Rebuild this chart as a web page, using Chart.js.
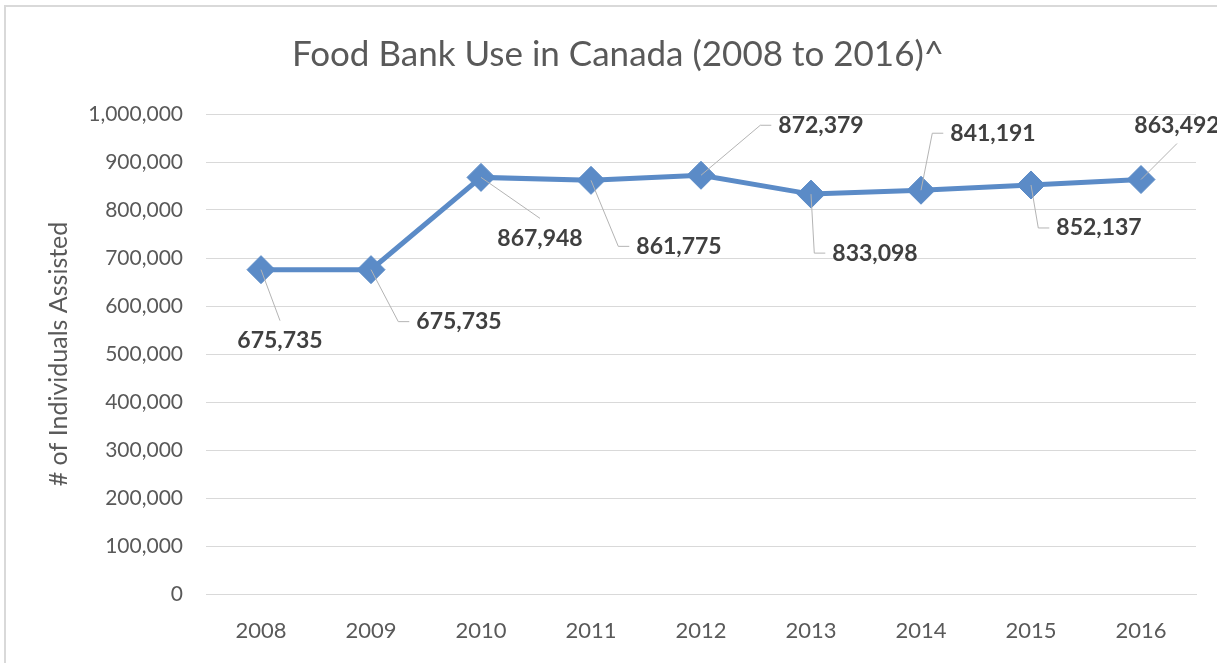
<!DOCTYPE html>
<html>
<head>
<meta charset="utf-8">
<script src="https://cdn.jsdelivr.net/npm/chart.js@4"></script>
<style>
  html, body { margin: 0; padding: 0; background: #fff; }
  #wrap { width: 1217px; height: 663px; }
</style>
</head>
<body>
<div id="wrap"><canvas id="foodChart" width="1217" height="663"></canvas></div>
<script>
// -----------------------------
// Data
// -----------------------------
const years = ["2008", "2009", "2010", "2011", "2012", "2013", "2014", "2015", "2016"];
const individuals = [675735, 675735, 867948, 861775, 872379, 833098, 841191, 852137, 863492];
const yTicks = [0, 100000, 200000, 300000, 400000, 500000, 600000, 700000, 800000, 900000, 1000000];

// where each data label sits relative to its point, and how the leader line runs
const labelPlacement = [
  { dx: 19, dy: 71, leader: "top" },
  { dx: 88, dy: 52, leader: "side" },
  { dx: 59, dy: 61, leader: "top" },
  { dx: 88, dy: 66, leader: "side" },
  { dx: 120, dy: -50, leader: "side" },
  { dx: 64, dy: 59, leader: "side" },
  { dx: 72, dy: -57, leader: "side" },
  { dx: 68, dy: 43, leader: "side" },
  { dx: 36, dy: -54, leader: "bottom" }
];

const FONT = "Lato, 'Open Sans', sans-serif";
const LINE_BLUE = "#5B8BC7";

function fmt(n) {
  return n.toLocaleString("en-US");
}

// -----------------------------
// Frame + leader-line labels
// -----------------------------
const framePlugin = {
  id: "frame",
  beforeDraw(chart) {
    const ctx = chart.ctx;
    ctx.save();
    ctx.fillStyle = "#fff";
    ctx.fillRect(0, 0, chart.width, chart.height);
    ctx.strokeStyle = "#d9d9d9";
    ctx.lineWidth = 2;
    ctx.strokeRect(5, 6, chart.width + 20, chart.height + 20);
    ctx.restore();
  }
};

const leaderLabels = {
  id: "leaderLabels",
  afterDatasetsDraw(chart) {
    const ctx = chart.ctx;
    const meta = chart.getDatasetMeta(0);
    ctx.save();
    ctx.font = "bold 23px " + FONT;
    ctx.textBaseline = "middle";
    ctx.textAlign = "center";
    meta.data.forEach((pt, i) => {
      const place = labelPlacement[i];
      const text = fmt(individuals[i]);
      const w = ctx.measureText(text).width;
      const cx = pt.x + place.dx;
      const cy = pt.y + place.dy;

      ctx.strokeStyle = "#b4b4b4";
      ctx.lineWidth = 1;
      ctx.beginPath();
      ctx.moveTo(pt.x, pt.y);
      if (place.leader === "side") {
        const left = cx - w / 2 - 7;
        ctx.lineTo(left - 11, cy);
        ctx.lineTo(left, cy);
      } else if (place.leader === "top") {
        ctx.lineTo(cx, cy - 20);
      } else {
        ctx.lineTo(cx, cy + 18);
      }
      ctx.stroke();

      ctx.fillStyle = "#404040";
      ctx.fillText(text, cx, cy);
    });
    ctx.restore();
  }
};

// -----------------------------
// Chart
// -----------------------------
Chart.defaults.font.family = FONT;

new Chart(document.getElementById("foodChart"), {
  type: "line",
  data: {
    labels: years,
    datasets: [{
      label: "Individuals Assisted",
      data: individuals,
      borderColor: LINE_BLUE,
      backgroundColor: LINE_BLUE,
      borderWidth: 5,
      tension: 0,
      pointStyle: "rectRot",
      pointRadius: 14,
      pointBorderWidth: 1,
      pointBackgroundColor: LINE_BLUE,
      pointBorderColor: LINE_BLUE
    }]
  },
  options: {
    responsive: false,
    devicePixelRatio: 1,
    animation: false,
    layout: { padding: { top: 6, left: 40, right: 21, bottom: 0 } },
    plugins: {
      legend: { display: false },
      tooltip: { enabled: false },
      title: {
        display: true,
        text: "Food Bank Use in Canada (2008 to 2016)^",
        color: "#595959",
        font: { size: 35, weight: "normal", family: FONT },
        padding: { top: 28, bottom: 38 }
      }
    },
    scales: {
      x: {
        offset: true,
        grid: { display: false, drawTicks: false },
        border: { color: "#d9d9d9", width: 1 },
        ticks: { color: "#595959", font: { size: 22 }, padding: 24 },
        afterFit: scale => { scale.height = 69; }
      },
      y: {
        min: 0,
        max: 1000000,
        afterBuildTicks: scale => { scale.ticks = yTicks.map(v => ({ value: v })); },
        grid: { color: "#d9d9d9", drawTicks: false },
        border: { display: false },
        ticks: {
          color: "#595959",
          font: { size: 21 },
          padding: 23,
          callback: v => fmt(v)
        },
        title: {
          display: true,
          text: "# of Individuals Assisted",
          color: "#595959",
          font: { size: 25, weight: "normal" },
          padding: { top: 4, bottom: 0 }
        },
        afterFit: scale => { scale.width = 166; }
      }
    }
  },
  plugins: [framePlugin, leaderLabels]
});
</script>
</body>
</html>
